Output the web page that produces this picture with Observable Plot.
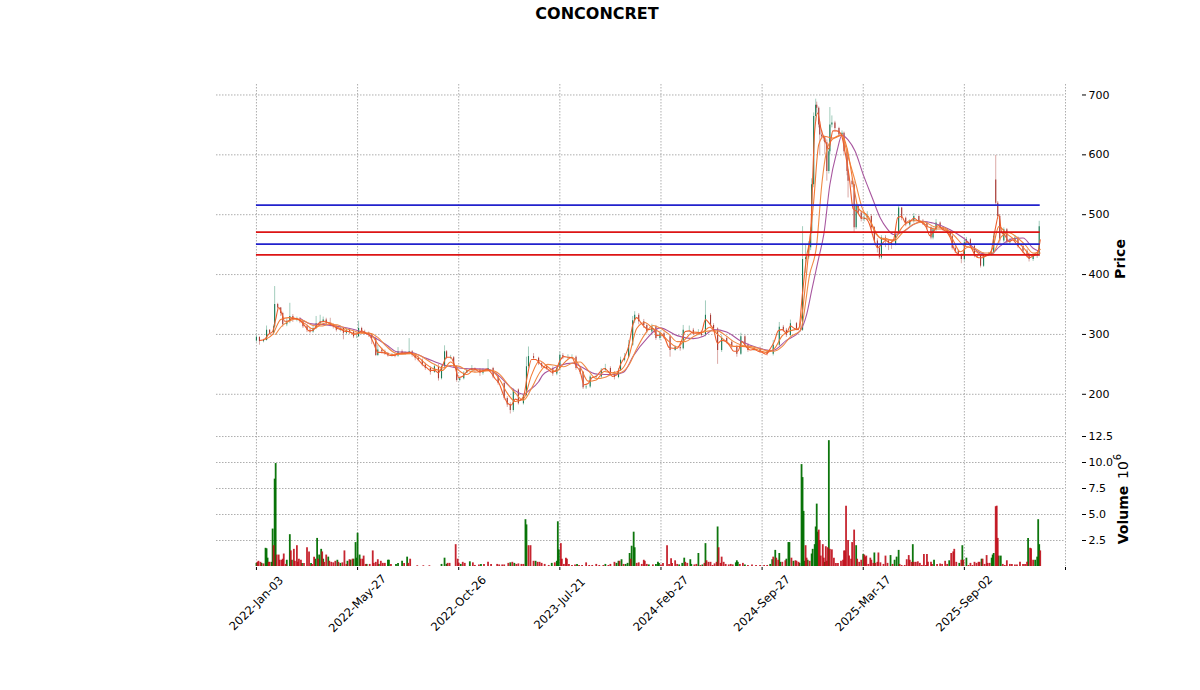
<!DOCTYPE html>
<html>
<head>
<meta charset="utf-8">
<script src="https://cdn.jsdelivr.net/npm/d3@7"></script>
<script src="https://cdn.jsdelivr.net/npm/@observablehq/plot@0.6"></script>
<style>
html,body{margin:0;padding:0;background:#fff;}
#wrap{position:relative;width:1200px;height:690px;overflow:hidden;background:#fff;font-family:"DejaVu Sans",sans-serif;}
#wrap svg{position:absolute;left:0;top:0;}
#title{position:absolute;left:0;width:1194px;top:4px;text-align:center;font-weight:bold;font-size:16px;color:#000;z-index:3;}
</style>
</head>
<body>
<div id="wrap"><div id="title">CONCONCRET</div></div>
<script>
const candleIdx = [
0,3,7,10,13,17,18,21,24,26, 30,33,36,40,43,46,50,53,56,59,
63,66,69,73,76,79,83,86,89,92, 96,99,101,104,107,111,114,118,120,124,
127,130,134,137,140,144,147,151,154,157, 160,164,167,172,176,180,183,186,188,192,
195,198,201,205,208,213,216,221,224,229, 234,239,245,248,251,254,259,264,267,269,
274,279,282,287,293,297,300,303,308,312, 316,320,323,326,330,336,341,345,350,354,
358,360,364,368,372,374,378,383,386,391, 395,399,403,409,414,419,422,428,432,437,
440,444,449,452,456,460,465,470,475,479, 483,486,492,498,505,511,517,521,524,528,
534,538,540,543,546,548,549,551,553,554, 556,557,559,561,562,564,566,567,569,572,
576,579,581,584,585,589,591,593,595,598, 601,604,608,611,614,616,618,622,625,628,
632,635,638,642,646,650,655,659,663,667, 669,672,676,679,683,686,688,691,694,697,
700,702,706,710,713,716,719,724,727,729, 731,733,735,739,742,745,750,753,758,762,
764,768,772,774];
const candleClose = [
295,288,290,307,302,313,350,344,335,316, 321,330,324,325,321,313,307,304,310,318,
321,324,318,316,313,307,310,302,307,304, 296,296,310,304,302,299,293,265,274,271,
268,264,265,264,271,268,268,271,265,260, 257,249,243,237,246,226,246,271,260,261,
246,223,226,235,240,243,240,235,240,243, 229,218,193,182,173,207,184,198,246,263,
260,251,246,243,234,243,265,262,262,262, 243,237,211,212,229,229,240,243,234,228,
240,257,262,282,323,332,321,315,304,313, 293,301,296,273,278,276,307,307,301,303,
298,332,315,309,273,293,287,279,267,296, 282,273,276,271,267,282,312,307,298,318,
309,307,425,428,445,472,550,664,683,678, 650,633,630,628,620,572,605,650,653,644,
633,636,605,572,556,550,478,514,503,492, 494,497,478,456,444,428,461,456,453,450,
467,511,494,483,489,497,489,486,478,461, 475,486,478,475,472,464,444,439,433,425,
453,458,447,431,431,414,433,433,436,464, 519,497,456,475,453,456,461,447,439,433,
425,431,433,480];
const candleOpen = [
289,295,288,290,307,302,313,350,344,335, 316,321,330,324,325,321,313,307,304,310,
318,321,324,318,316,313,307,310,302,307, 304,296,296,310,304,302,299,293,265,274,
271,268,264,265,264,271,268,268,271,265, 260,257,249,243,237,246,226,246,271,260,
261,246,223,226,235,240,243,240,235,240, 243,229,218,193,182,173,207,184,198,246,
263,260,251,246,243,234,243,265,262,262, 262,243,237,211,212,229,229,240,243,234,
228,240,257,262,282,323,332,321,315,304, 313,293,301,296,273,278,276,307,307,301,
303,298,332,315,309,273,293,287,279,267, 296,282,273,276,271,267,282,312,307,298,
318,309,307,425,428,445,472,550,664,683, 678,650,633,630,628,620,572,605,650,653,
644,633,636,605,572,556,550,478,514,503, 492,494,497,478,456,444,428,461,456,453,
450,467,511,494,483,489,497,489,486,478, 461,475,486,478,475,472,464,444,439,433,
425,453,458,447,431,431,414,433,433,436, 558,519,497,456,475,453,456,461,447,439,
433,425,431,433];
const candleHigh = [
298,296,292,314,308,316,380,352,345,337, 326,352,333,329,328,323,316,310,314,330,
332,329,327,327,318,315,314,312,310,310, 306,300,322,312,307,304,301,296,282,277,
274,270,268,268,278,274,271,293,273,268, 263,259,252,246,249,250,248,281,273,265,
263,248,228,238,243,248,244,243,243,258, 245,232,220,196,186,209,209,200,262,279,
268,262,253,249,246,246,270,268,266,266, 264,246,238,215,232,234,243,250,246,238,
243,262,268,290,330,338,335,325,318,317, 315,305,304,298,281,284,315,314,310,308,
306,356,335,318,311,298,296,290,282,302, 298,285,279,279,274,290,320,315,310,324,
320,318,480,450,455,478,560,670,693,688, 680,655,640,632,630,625,610,679,665,656,
646,640,638,610,575,560,555,518,516,505, 500,505,500,480,460,448,465,465,458,456,
470,514,512,496,492,502,498,492,488,480, 478,492,488,480,477,474,466,448,441,435,
458,462,460,450,434,433,436,437,440,470, 599,522,500,478,477,460,465,463,450,442,
436,435,437,489];
const candleLow = [
287,282,286,289,300,300,311,338,330,312, 313,318,320,321,318,310,303,301,302,308,
315,319,315,313,309,304,304,291,299,300, 293,293,295,301,299,295,283,263,263,267,
265,262,262,261,262,266,265,266,262,256, 254,246,240,232,235,222,224,244,258,258,
244,220,221,224,235,238,236,230,232,238, 226,215,190,178,167,170,182,182,196,243,
257,248,243,240,230,231,240,258,258,258, 240,233,208,208,210,226,226,238,231,224,
226,238,254,260,280,318,316,310,301,301, 290,290,292,262,272,272,274,303,298,298,
295,296,312,305,250,270,284,276,262,265, 280,270,272,268,264,264,280,304,295,296,
306,304,305,402,425,440,468,545,655,670, 645,600,625,622,600,556,568,600,645,640,
630,630,600,565,528,545,470,475,500,488, 488,490,474,452,436,425,425,445,440,442,
448,465,490,480,480,486,485,482,475,458, 458,472,476,472,468,462,441,435,430,418,
422,450,444,428,427,411,412,430,431,433, 515,492,452,453,450,450,454,444,435,428,
421,422,427,430];

const fastIdx = [4,8,12,16,19,22,25,28,32,36,40,44,48,52,56,60,64,68,72,76,80,84,88,92,96,100,104,108,112,116,120,124,128,132,136,140,144,148,152,156,160,164,168,172,176,180,184,188,192,196,200,204,208,212,216,220,224,228,232,236,240,244,248,252,256,260,264,268,272,276,280,284,288,292,296,300,304,308,312,316,320,324,328,332,336,340,344,348,352,356,360,364,368,372,376,380,384,388,392,396,400,404,408,412,416,420,424,428,432,436,440,444,448,452,456,460,464,468,472,476,480,484,488,492,496,500,504,508,512,516,520,524,528,532,536,540,544,548,550,552,555,558,562,566,570,574,578,582,586,590,594,598,602,606,610,614,618,622,626,630,634,638,642,646,650,654,658,662,666,670,674,678,682,686,690,694,698,702,706,710,714,718,722,726,729,731,734,737,740,744,748,752,756,760,764,768,772,775];
const fastVal = [290,292,300,305,325,345,335,322,323,327,326,322,314,306,307,316,321,322,318,314,310,308,305,305,300,301,306,302,298,285,270,270,268,265,265,268,269,269,270,264,258,250,245,240,240,236,248,262,262,248,228,230,238,242,242,238,239,242,236,226,218,200,186,182,192,190,196,232,258,258,252,246,242,237,240,256,263,262,261,248,238,216,218,228,230,238,243,238,230,232,250,262,280,315,328,320,312,308,310,298,299,293,278,277,277,288,305,306,302,302,304,325,318,308,285,290,288,281,272,272,288,280,274,275,272,270,267,276,288,306,308,302,314,310,308,370,430,470,560,640,670,645,625,610,640,640,635,605,565,510,505,495,494,485,462,445,450,457,453,458,495,497,486,488,494,490,487,480,465,473,482,476,472,462,442,434,432,455,448,434,428,428,433,436,462,480,500,470,466,455,458,450,442,434,428,431,434,458];

const midIdx = [9,16,24,32,40,48,56,64,72,80,88,96,104,112,120,128,136,144,152,160,168,176,184,192,200,208,216,224,232,240,248,256,264,272,280,288,296,304,312,320,328,336,344,352,360,368,376,384,392,400,408,416,424,432,440,448,456,464,472,480,488,496,504,512,520,528,536,540,544,551,556,561,571,579,584,591,595,605,613,622,630,638,646,656,664,672,680,688,696,704,712,720,728,734,742,750,758,766,775];
const midVal = [292,300,325,328,326,318,309,317,320,312,307,302,303,302,284,270,266,268,269,262,250,242,240,254,240,233,241,240,240,226,202,188,192,232,256,246,238,252,262,246,222,224,238,236,240,262,310,320,310,302,288,279,292,304,303,312,300,289,280,280,278,274,270,276,298,306,310,340,403,522,617,631,628,633,611,544,511,497,467,458,458,478,490,490,480,476,476,460,438,446,438,430,444,480,468,458,446,432,442];

const slowIdx = [19,24,32,40,48,56,64,72,80,88,96,104,112,120,128,136,144,152,160,168,176,184,192,200,208,216,224,232,240,248,256,264,272,280,288,296,304,312,320,328,336,344,352,360,368,376,384,392,400,408,416,424,432,440,448,456,464,472,480,488,496,504,512,520,528,538,547,554,559,564,569,579,584,592,599,607,617,623,630,640,650,660,670,680,690,700,710,720,728,736,744,752,760,768,775];
const slowVal = [300,312,322,326,322,315,314,317,316,310,306,302,302,295,281,270,267,268,266,258,250,244,248,247,240,237,238,240,234,218,202,190,210,236,250,248,246,252,254,240,226,228,234,236,248,276,300,315,310,300,288,288,296,303,306,306,298,288,282,280,277,273,272,280,296,307,400,450,550,608,625,633,603,556,511,489,461,460,456,472,484,488,480,478,465,448,444,436,436,462,470,462,450,436,436];

const longIdx = [43,53,69,86,99,112,129,139,152,168,185,205,228,241,251,264,270,279,283,290,300,313,320,336,353,363,373,386,399,416,432,442,452,465,478,495,510,524,538,544,549,556,561,567,574,579,585,592,600,609,617,623,630,640,650,659,669,686,699,716,725,735,748,758,768,774];
const longVal = [327,318,316,312,307,299,282,271,270,260,249,243,242,229,212,200,207,221,232,240,248,252,247,234,233,237,265,293,311,298,293,297,308,304,290,278,273,290,307,333,373,428,467,550,606,633,625,606,567,528,494,478,467,472,484,489,486,475,461,436,433,447,460,461,444,439];

const redLevels = [471, 433];
const blueLevels = [516, 451];

const greenIdx = [
0,5,9,10,11,15,16,18,19,30, 33,35,45,54,58,60,62,64,66,71,
80,83,90,93,96,98,99,100,102,109, 121,130,131,138,140,144,149,183,186,188,
202,211,222,251,255,266,267,276,292,297, 298,299,317,345,356,358,361,365,367,369,
371,373,374,388,395,397,398,418,421,423, 429,430,437,441,444,456,474,475,476,483,
508,510,513,517,518,524,526,527,531,537, 539,540,541,542,545,549,550,552,553,554,
555,562,566,593,600,611,627,631,633,635, 649,670,685,695,698,702,717,727,728,729,
734,736,763,770,772,773,774];
const greenVol = [
.3,.3,1.75,1.7,.8,.4,3.6,8.4,9.9,.6, 3.06,.6,.3,.3,.7,2.7,1.1,1.65,.7,.9,
.6,.3,.5,.6,.7,2.3,.8,3.2,1.1,.2, .2,.6,.6,.2,.3,.5,.9,.2,.8,.2,
.2,.45,.2,.35,.3,4.5,4.0,.5,.3,.5, 4.3,1.6,.2,.2,.3,.5,.65,.2,.3,1.25,
1.95,3.3,1.8,.15,.2,.4,.3,.15,.3,.8, .65,.2,1.25,.15,2.2,3.8,.35,.55,.4,.15,
.2,.65,1.55,1.25,.4,.7,2.3,2.3,.5,.3, 9.8,8.55,5.3,.5,.6,1.2,1.65,2.1,3.8,6.0,
3.3,.4,12.1,2.0,1.15,1.3,1.05,.6,.9,1.55, 2.1,.6,.55,.3,2.0,.8,.7,.8,1.1,1.25,
1.0,1.0,2.7,.6,.9,4.5,2.1];
const redIdx = [
1,2,4,7,12,13,17,20,22,23, 25,26,27,29,34,37,38,40,41,42,
44,47,50,52,55,57,61,65,67,69, 72,74,76,78,81,85,87,89,92,95,
103,105,106,108,112,115,116,118,120,123, 125,127,133,146,150,152,159,165,171,189,
191,197,199,200,204,206,214,216,220,225, 229,232,238,240,243,245,249,253,257,259,
262,264,269,271,274,278,280,282,285,289, 295,301,302,304,306,307,309,312,315,319,
322,326,329,332,336,339,343,348,350,354, 359,363,370,376,378,381,383,384,386,392,
400,402,406,408,410,411,414,416,424,426, 433,435,439,443,445,447,449,451,453,455,
457,459,460,462,464,467,469,471,478,481, 486,490,494,498,502,505,511,514,516,520,
523,529,533,534,536,543,544,547,556,557, 558,560,561,563,564,565,567,569,571,573,
575,578,580,581,582,583,585,586,588,589, 591,594,596,598,601,602,603,605,607,608,
610,612,614,615,617,620,622,624,629,636, 638,641,643,645,646,648,650,652,654,656,
658,660,662,663,664,667,668,673,676,678, 681,683,687,689,690,692,697,699,704,706,
708,710,712,714,715,718,720,722,723,725, 731,732,733,738,740,742,745,747,750,752,
755,758,760,762,765,766,768,775];
const redVol = [
.4,.5,.4,.25,.4,.4,2.0,1.1,1.1,.6, .6,.7,1.2,.2,1.5,1.65,.5,2.0,.4,.7,
.6,.3,1.8,1.4,.2,.9,.7,1.4,.4,1.1, .5,.4,.35,.5,.4,.35,1.5,.2,.65,.7,
.7,.7,1.0,.2,.2,1.5,.3,.4,.65,.5, .3,.3,.2,.3,.3,.7,.07,.07,.07,.3,
.3,2.1,.7,.3,.4,.3,.35,.1,.15,.2, .4,.2,.2,.15,.15,.15,.3,.4,.2,.25,
.2,.2,2.0,2.0,.5,.4,.4,.3,.2,.1, .35,2.2,.7,.2,.8,.7,.2,.1,.15,.1,
.1,.35,.1,.1,.2,.1,.1,.1,.2,.4, .5,.2,.7,.3,.35,.2,.6,.5,.2,.15,
.15,.3,2.0,.2,.75,.3,.55,.2,.4,.3, .15,.2,.1,.3,.55,.4,.4,.1,.25,.4,
1.8,.3,.9,.4,.2,.15,.2,.15,.2,.3, .1,.15,.1,.1,.1,.1,.9,.8,.6,.4,
.55,.8,.55,.5,.4,2.0,.8,.5,3.5,2.5, 1.0,2.1,.8,1.9,.5,1.8,1.65,1.6,.8,.3,
.3,.5,.6,1.5,1.5,5.8,2.5,1.0,.7,2.3, 3.5,.7,.4,.6,1.1,.9,1.0,.2,.8,.6,
.3,.3,.4,1.3,.35,.2,1.0,.3,.2,.2, .1,.1,.65,1.05,.6,.4,.4,.4,.45,.3,
.1,1.15,.1,1.15,.4,.4,.2,.2,.25,.2, .5,.2,1.25,1.4,1.65,.4,.6,.6,.1,.3,
.1,.4,.3,.4,.4,.7,.2,1.05,.3,.3, 5.75,5.8,2.7,.2,.1,.55,.2,.2,.15,.15,
.4,.2,.2,.4,1.75,1.7,.6,1.5];

const tickIdx = [0,100,200,300,400,500,600,700,800];
const tickText = ["2022-Jan-03","2022-May-27","2022-Oct-26","2023-Jul-21","2024-Feb-27","2024-Sep-27","2025-Mar-17","2025-Sep-02"];
const priceTicks = [200,300,400,500,600,700];
const volTicks = [2.5,5,7.5,10,12.5];

const xDomain = [-39.5, 800];
const gridStyle = {stroke:"#9a9a9a", strokeWidth:1, strokeOpacity:0.8, strokeDasharray:"1.5 1.5"};
const font = "DejaVu Sans";
const up = "#4f9f80", down = "#b85a55";
const n = candleIdx.map((_, i) => i);
const col = i => candleClose[i] >= candleOpen[i] ? up : down;
const bodyCol = i => candleClose[i] >= candleOpen[i] ? "#1a7a55" : "#a63a35";

const pricePlot = Plot.plot({
  width:1200, height:433, marginTop:84, marginBottom:0, marginLeft:216, marginRight:135,
  style:{background:"transparent", fontFamily:font, fontSize:"11px", color:"#000", overflow:"visible"},
  x:{domain:xDomain, axis:null},
  y:{domain:[134.5, 717.5], axis:null},
  marks:[
    Plot.gridY(priceTicks, gridStyle),
    Plot.gridX(tickIdx, gridStyle),
    Plot.ruleX(n, {x:i=>candleIdx[i], y1:i=>candleLow[i], y2:i=>candleHigh[i], stroke:col, strokeWidth:0.7, strokeOpacity:0.75}),
    Plot.ruleX(n, {x:i=>candleIdx[i], y1:i=>candleOpen[i], y2:i=>candleClose[i], stroke:bodyCol, strokeWidth:1.1}),
    Plot.line(longVal, {x:longIdx, y:longVal, stroke:"#a8579f", strokeWidth:1.1, curve:"monotone-x"}),
    Plot.line(slowVal, {x:slowIdx, y:slowVal, stroke:"#f08a45", strokeWidth:1.1, curve:"monotone-x"}),
    Plot.line(midVal, {x:midIdx, y:midVal, stroke:"#f27a35", strokeWidth:1.1, curve:"monotone-x"}),
    Plot.line(fastVal, {x:fastIdx, y:fastVal, stroke:"#ee5f2c", strokeWidth:1.1, curve:"monotone-x"}),
    Plot.ruleY(blueLevels, {y:d=>d, x1:0, x2:775, stroke:"#2222cc", strokeWidth:1.7}),
    Plot.ruleY(redLevels, {y:d=>d, x1:0, x2:775, stroke:"#dd1414", strokeWidth:1.7}),
    Plot.axisY(priceTicks, {anchor:"right", tickSize:4, tickPadding:3, dx:16, fontSize:11, tickFormat:d=>String(d), label:null}),
    Plot.text(["Price"], {frameAnchor:"right", dx:55, textAnchor:"middle", rotate:-90, fontWeight:"bold", fontSize:14, fill:"#000"})
  ]
});

const volPlot = Plot.plot({
  width:1200, height:690, marginTop:433, marginBottom:124, marginLeft:216, marginRight:135,
  style:{background:"transparent", fontFamily:font, fontSize:"11px", color:"#000", overflow:"visible"},
  x:{domain:xDomain, axis:null},
  y:{domain:[0, 12.79], axis:null},
  marks:[
    Plot.gridY(volTicks, gridStyle),
    Plot.gridX(tickIdx, gridStyle),
    Plot.ruleX(greenVol, {x:greenIdx, y1:0, y2:greenVol, stroke:"#006f00", strokeWidth:1.8, strokeOpacity:0.95}),
    Plot.ruleX(redVol, {x:redIdx, y1:0, y2:redVol, stroke:"#c00d1a", strokeWidth:1.8, strokeOpacity:0.9}),
    Plot.axisY(volTicks, {anchor:"right", tickSize:4, tickPadding:3, dx:16, fontSize:11, tickFormat:d=>d.toFixed(1), label:null}),
    Plot.axisX(tickIdx, {anchor:"bottom", tickSize:3, tickPadding:0, dy:1, tickFormat:()=>"", label:null}),
    Plot.text(tickText, {x:(d,i)=>tickIdx[i], frameAnchor:"bottom", dy:37, rotate:-45, textAnchor:"middle", lineAnchor:"middle", fontSize:11.5, fill:"#000"}),
    Plot.text(["Volume"], {frameAnchor:"right", dx:58, dy:15, textAnchor:"middle", rotate:-90, fontWeight:"bold", fontSize:14, fill:"#000"}),
    Plot.text(["10"], {frameAnchor:"right", dx:58, dy:-30, textAnchor:"middle", rotate:-90, fontSize:14, fill:"#000"}),
    Plot.text(["6"], {frameAnchor:"right", dx:52, dy:-43, textAnchor:"middle", rotate:-90, fontSize:10, fill:"#000"})
  ]
});

const wrap = document.getElementById("wrap");
wrap.appendChild(pricePlot);
wrap.appendChild(volPlot);
</script>
</body>
</html>
